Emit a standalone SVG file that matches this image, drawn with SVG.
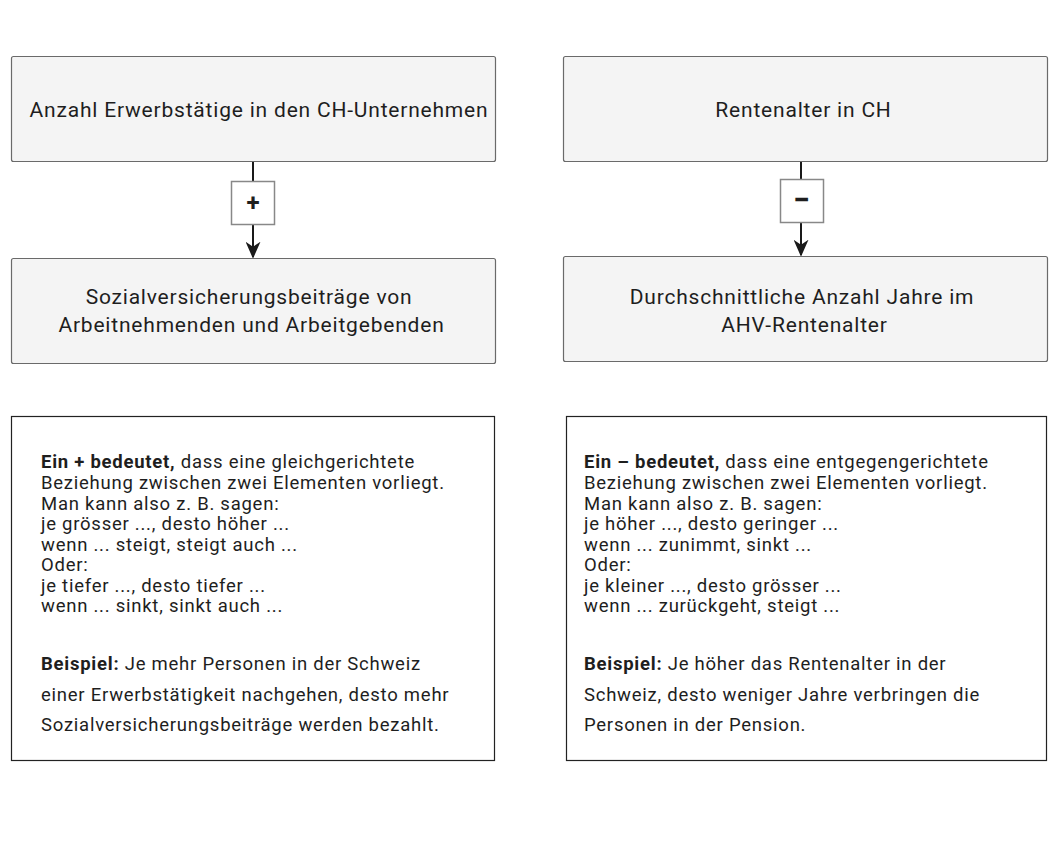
<svg xmlns="http://www.w3.org/2000/svg" width="1060" height="855" viewBox="0 0 1060 855">
<defs>
<style>
.node rect{fill:#f4f4f4;stroke:#6a6a6a;stroke-width:1.2}
.sign rect{fill:#ffffff;stroke:#888;stroke-width:1.5}
.t{font-family:Roboto,"Liberation Sans",sans-serif;fill:#1e1e1e}
.nt{font-size:21px;text-anchor:middle;letter-spacing:0.8px}
.bt{font-size:18.5px;letter-spacing:0.75px}
.b{font-weight:bold}
.info rect{fill:#fff;stroke:#222;stroke-width:1.2}
.conn line{stroke:#1a1a1a;stroke-width:2}
</style>
<marker id="ah" viewBox="0 0 10 10" refX="9" refY="5" markerWidth="17" markerHeight="15" markerUnits="userSpaceOnUse" orient="auto" preserveAspectRatio="none">
<path d="M0,0 L10,5 L0,10 L3,5 z" fill="#1a1a1a"/>
</marker>
</defs>
<rect width="1060" height="855" fill="#fff"/>

<g id="conns" class="conn">
<line x1="253" y1="161" x2="253" y2="181"/>
<line x1="253" y1="225" x2="253" y2="257" marker-end="url(#ah)"/>
<line x1="801" y1="161" x2="801" y2="179"/>
<line x1="801" y1="223" x2="801" y2="255" marker-end="url(#ah)"/>
</g>

<g id="n1" class="node"><rect x="11.5" y="56.5" width="484" height="105" rx="2"/>
<text class="t nt" x="259" y="117">Anzahl Erwerbstätige in den CH-Unternehmen</text></g>
<g id="n2" class="node"><rect x="11.5" y="258.5" width="484" height="105" rx="2"/>
<text class="t nt" x="249" y="304">Sozialversicherungsbeiträge von</text>
<text class="t nt" x="251.5" y="332">Arbeitnehmenden und Arbeitgebenden</text></g>
<g id="n3" class="node"><rect x="563.5" y="56.5" width="484" height="105" rx="2"/>
<text class="t nt" x="803.5" y="117">Rentenalter in CH</text></g>
<g id="n4" class="node"><rect x="563.5" y="256.5" width="484" height="105" rx="2"/>
<text class="t nt" x="802" y="304">Durchschnittliche Anzahl Jahre im</text>
<text class="t nt" x="804.5" y="332">AHV-Rentenalter</text></g>

<g id="s1" class="sign"><rect x="231.5" y="181.5" width="43" height="43"/>
<text class="t b" x="253" y="211" font-size="24" text-anchor="middle">+</text></g>
<g id="s2" class="sign"><rect x="780.5" y="179.5" width="43" height="43"/>
<text class="t b" x="801.5" y="210" font-size="30" text-anchor="middle">−</text></g>

<g id="info1" class="info"><rect x="11.5" y="416.5" width="483" height="344"/>
<text class="t bt" x="41" y="468"><tspan class="b">Ein + bedeutet,</tspan> dass eine gleichgerichtete</text>
<text class="t bt" x="41" y="489">Beziehung zwischen zwei Elementen vorliegt.</text>
<text class="t bt" x="41" y="509.5">Man kann also z. B. sagen:</text>
<text class="t bt" x="41" y="530">je grösser ..., desto höher ...</text>
<text class="t bt" x="41" y="551">wenn ... steigt, steigt auch ...</text>
<text class="t bt" x="41" y="571">Oder:</text>
<text class="t bt" x="41" y="592">je tiefer ..., desto tiefer ...</text>
<text class="t bt" x="41" y="612">wenn ... sinkt, sinkt auch ...</text>
<text class="t bt" x="41" y="670"><tspan class="b">Beispiel:</tspan> Je mehr Personen in der Schweiz</text>
<text class="t bt" x="41" y="700.5">einer Erwerbstätigkeit nachgehen, desto mehr</text>
<text class="t bt" x="41" y="731">Sozialversicherungsbeiträge werden bezahlt.</text>
</g>

<g id="info2" class="info"><rect x="566.5" y="416.5" width="480" height="344"/>
<text class="t bt" x="584" y="468"><tspan class="b">Ein – bedeutet,</tspan> dass eine entgegengerichtete</text>
<text class="t bt" x="584" y="489">Beziehung zwischen zwei Elementen vorliegt.</text>
<text class="t bt" x="584" y="509.5">Man kann also z. B. sagen:</text>
<text class="t bt" x="584" y="530">je höher ..., desto geringer ...</text>
<text class="t bt" x="584" y="551">wenn ... zunimmt, sinkt ...</text>
<text class="t bt" x="584" y="571">Oder:</text>
<text class="t bt" x="584" y="592">je kleiner ..., desto grösser ...</text>
<text class="t bt" x="584" y="612">wenn ... zurückgeht, steigt ...</text>
<text class="t bt" x="584" y="670"><tspan class="b">Beispiel:</tspan> Je höher das Rentenalter in der</text>
<text class="t bt" x="584" y="700.5">Schweiz, desto weniger Jahre verbringen die</text>
<text class="t bt" x="584" y="731">Personen in der Pension.</text>
</g>
</svg>
